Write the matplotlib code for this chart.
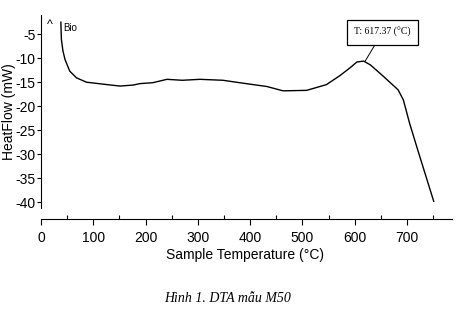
import matplotlib
matplotlib.use('Agg')
import matplotlib.pyplot as plt
from matplotlib.ticker import MultipleLocator

# DTA curve of sample M50
temp = [38, 39, 42, 46, 55, 68, 87, 126, 151, 176, 189, 214, 241, 270, 304, 348, 386,
        432, 463, 508, 546, 572, 591, 604, 617, 630, 655, 683, 693, 705, 721, 737, 751]
heatflow = [-2.5, -6.1, -8.5, -10.3, -12.7, -14.1, -15.0, -15.5, -15.8, -15.6, -15.3, -15.1,
            -14.4, -14.6, -14.4, -14.6, -15.2, -15.9, -16.8, -16.7, -15.5, -13.6, -12.0,
            -10.8, -10.6, -11.4, -13.8, -16.6, -18.7, -23.6, -29.3, -34.9, -39.8]
x_ticks = [0, 100, 200, 300, 400, 500, 600, 700]
y_ticks = [-5, -10, -15, -20, -25, -30, -35, -40]
peak_label = 'T: 617.37 (°C)'
peak_t, peak_hf = 620, -10.6

sans = 'Liberation Sans'

fig = plt.figure(figsize=(4.57, 3.16), dpi=100)
ax = fig.add_axes([41/457, 97/316, 411/457, 204/316])

ax.plot(temp, heatflow, color='black', lw=1.0)

ax.set_xlim(0, 786)
ax.set_ylim(-43.5, -1.0)
ax.set_xticks(x_ticks)
ax.set_yticks(y_ticks)
ax.xaxis.set_minor_locator(MultipleLocator(50))
ax.set_xticklabels([str(v) for v in x_ticks], family=sans, fontsize=10)
ax.set_yticklabels([str(v) for v in y_ticks], family=sans, fontsize=10)

for s in ['top', 'right']:
    ax.spines[s].set_visible(False)
ax.spines['left'].set_bounds(-41.3, -1.0)
ax.tick_params(axis='x', which='major', direction='out', length=4, pad=5, width=0.8)
ax.tick_params(axis='x', which='minor', direction='in', length=3, width=0.8)
ax.tick_params(axis='y', which='major', direction='out', length=3, pad=1, width=0.8)

ax.annotate(peak_label, xy=(peak_t, peak_hf), xytext=(653, -4.6),
            ha='center', va='center', fontsize=7, family='Liberation Serif',
            bbox=dict(boxstyle='square,pad=0.75', fc='white', ec='black', lw=0.9),
            arrowprops=dict(arrowstyle='-', color='black', lw=0.7, shrinkA=0, shrinkB=0))

ax.text(17, -3.0, '^', fontsize=9, ha='center', va='center', family=sans)
ax.text(42, -3.7, 'Bio', fontsize=7, ha='left', va='center', family=sans)

fig.text(9/457, 1 - 112/316, 'HeatFlow (mW)', rotation=90, ha='center', va='center',
         family=sans, fontsize=10)
fig.text(245/457, 1 - 255/316, 'Sample Temperature (°C)', ha='center', va='center',
         family=sans, fontsize=10)
fig.text(228/457, 1 - 298/316, 'Hình 1. DTA mẫu M50', ha='center', va='center',
         family='Liberation Serif', style='italic', fontsize=10)

fig.savefig('out.png', dpi=100)
